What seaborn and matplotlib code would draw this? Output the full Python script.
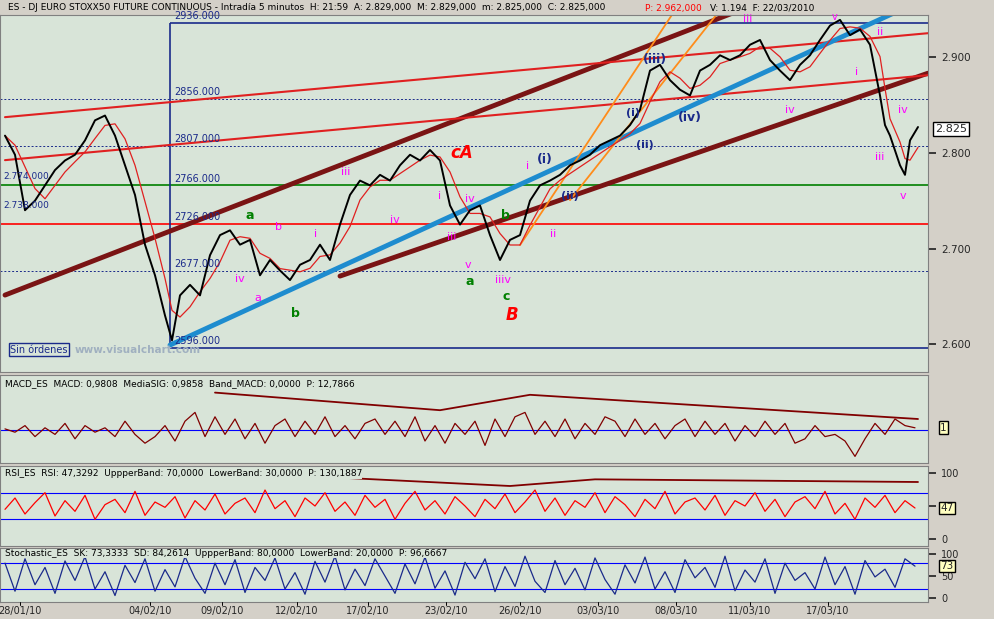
import matplotlib
matplotlib.use("Agg")
import matplotlib.pyplot as plt
import seaborn as sns
import numpy as np
import pandas as pd

sns.set_theme(style="white")
plt.rcParams['font.family'] = ['DejaVu Sans']

# ---- data (x in bar units, price in index/1000) ----
px = [5,15,25,35,45,55,65,75,85,95,105,115,125,135,145,155,165,172,180,190,200,210,220,230,240,250,260,270,280,290,
      300,310,320,330,340,350,360,370,380,390,400,410,420,430,440,450,460,470,480,490,500,510,520,530,540,550,560,570,580,590,
      600,610,620,630,640,650,660,670,680,690,700,710,720,730,740,750,760,770,780,790,800,810,820,830,840,850,860,870,
      880,885,890,900,905,910,918]
price = [2.818,2.798,2.740,2.750,2.766,2.782,2.792,2.798,2.813,2.834,2.839,2.818,2.787,2.756,2.704,2.672,2.630,2.604,2.651,2.662,
         2.651,2.693,2.714,2.719,2.704,2.709,2.672,2.688,2.677,2.667,2.683,2.688,2.704,2.688,2.725,2.756,2.771,2.766,2.777,2.771,
         2.787,2.798,2.792,2.803,2.792,2.745,2.725,2.740,2.745,2.714,2.688,2.709,2.714,2.750,2.766,2.771,2.777,2.787,2.792,2.798,
         2.808,2.813,2.818,2.829,2.845,2.886,2.892,2.876,2.866,2.860,2.886,2.892,2.902,2.897,2.902,2.913,2.918,2.897,2.886,2.876,
         2.892,2.902,2.918,2.933,2.939,2.923,2.929,2.913,2.860,2.829,2.818,2.787,2.777,2.813,2.827]
levels = [2.936, 2.856, 2.807, 2.766, 2.726, 2.677, 2.596]
level_labels = ["2936.000","2856.000","2807.000","2766.000","2726.000","2677.000","2596.000"]
date_pos = [20,150,222,297,368,446,520,598,676,750,828]
date_labels = ["28/01/10","04/02/10","09/02/10","12/02/10","17/02/10","23/02/10","26/02/10","03/03/10","08/03/10","11/03/10","17/03/10"]

ox = list(range(5, 921, 10))
macd = [0.5,-1,2,-3,1,-2,3,-4,2,-1,1,-3,4,-2,-6,-3,2,-5,4,8,-3,6,-2,5,-4,3,-6,2,5,-3,4,-2,6,-3,2,-4,3,5,-2,4,
        -3,6,-5,2,-6,3,-2,4,-7,5,-3,6,8,-2,4,-3,5,-4,3,-2,6,4,-3,5,-2,3,-4,2,5,-3,4,-2,3,-5,2,-3,4,-2,3,-6,
        -4,2,-3,-2,-5,-12,-4,3,-2,5,2,1]
rsi = [45,62,38,55,70,35,58,42,66,30,52,60,40,72,36,56,48,64,32,58,44,68,38,54,62,40,74,46,58,34,
       62,50,70,42,56,36,66,48,60,30,54,72,44,58,38,64,50,34,60,46,68,40,56,74,42,62,36,58,48,70,
       40,64,52,34,60,46,72,38,56,62,44,66,36,58,50,70,42,60,34,56,64,46,72,38,54,30,62,48,66,40,58,47]
stoch = [80,15,90,30,70,10,85,40,95,20,60,5,75,35,90,15,65,25,95,45,10,80,30,88,12,70,40,92,20,58,
         8,84,36,96,18,66,28,90,50,10,78,32,94,22,62,6,82,44,90,14,72,26,96,38,12,86,30,68,18,92,
         42,8,76,34,94,20,60,12,88,46,70,24,96,16,64,36,90,10,80,40,58,20,94,30,72,8,86,48,66,24,90,73]
macd_ref = [(215,17),(440,9),(530,16),(918,5)]
rsi_ref = [(320,94),(510,80),(595,90),(918,86)]

BG = "#d8e4d8"
fig = plt.figure(figsize=(9.94, 6.19), dpi=100, facecolor="#d4d0c8")
W, H = 994, 619
def ax_at(l, t, r, b):
    a = fig.add_axes([l/W, 1-b/H, (r-l)/W, (b-t)/H])
    a.set_facecolor(BG)
    a.set_xlim(0, 928)
    a.tick_params(axis='x', bottom=False, labelbottom=False)
    a.yaxis.tick_right()
    for s in a.spines.values():
        s.set_color("#808080"); s.set_linewidth(0.8)
    return a

fig.text(8/W, 1-8/H, "ES - DJ EURO STOXX50 FUTURE CONTINUOUS - Intradía 5 minutos  H: 21:59  A: 2.829,000  M: 2.829,000  m: 2.825,000  C: 2.825,000",
         fontsize=6.5, va="center", color="black")
fig.text(645/W, 1-8/H, "P: 2.962,000", fontsize=6.5, va="center", color="red")
fig.text(710/W, 1-8/H, "V: 1.194  F: 22/03/2010", fontsize=6.5, va="center", color="black")

# ---- main ----
ax = ax_at(0, 15, 928, 372)
ax.set_ylim(2.5709, 2.9441)
df = pd.DataFrame({"x": px, "p": price})
df["ma"] = df["p"].rolling(3, min_periods=1).mean()
for y, lab in zip(levels, level_labels):
    if y in (2.766,):
        ax.axhline(y, color="green", lw=1.2)
    elif y == 2.726:
        ax.axhline(y, color="red", lw=1.2)
    elif y in (2.936, 2.596):
        ax.hlines(y, 170, 928, color="#1a2a8a", lw=1.2)
    else:
        ax.axhline(y, color="#1a2a8a", lw=0.7, ls=(0, (2, 2)))
    ax.text(174, y+0.004, lab, fontsize=7, color="#1a2a8a")
ax.text(3, 2.773, "2.774.000", fontsize=6.5, color="#1a2a8a")
ax.text(3, 2.742, "2.738.000", fontsize=6.5, color="#1a2a8a")
ax.vlines(170, 2.596, 2.936, color="#1a2a8a", lw=1.2)

def pline(x0, y0, x1, y1, **kw):
    to = lambda yy: 2.9 - (yy-62)/957
    ax.plot([x0, x1], [to(y0), to(y1)], **kw)
pline(5, 300, 740, 15, color="#7a1414", lw=3.5)
pline(340, 281, 928, 78, color="#7a1414", lw=3.5)
pline(5, 122, 928, 38, color="#e02020", lw=1.5)
pline(5, 165, 928, 80, color="#e02020", lw=1.5)
pline(170, 350, 900, 15, color="#1e8ccf", lw=3.5)
pline(520, 250, 675, 15, color="#ff8c1a", lw=1.3)
pline(570, 205, 720, 15, color="#ff8c1a", lw=1.3)
sns.lineplot(data=df, x="x", y="ma", ax=ax, color="#e02020", lw=0.9)
sns.lineplot(data=df, x="x", y="p", ax=ax, color="black", lw=1.4)
ax.set_xlabel(""); ax.set_ylabel("")
ax.set_yticks([2.6, 2.7, 2.8, 2.9]); ax.set_yticklabels(["2.600","2.700","2.800","2.900"], fontsize=7.5)
ax.text(935, 2.825, "2.825", transform=ax.transData, fontsize=8, va="center", clip_on=False,
        bbox=dict(facecolor="white", edgecolor="black", pad=1.5))
ax.text(10, 2.591, "Sin órdenes", fontsize=7, color="#1a2a8a", bbox=dict(facecolor=BG, edgecolor="#1a2a8a", pad=1))
ax.text(75, 2.591, "www.visualchart.com", fontsize=7.5, color="#a0b0c0", weight="bold")
labs = [(462, 2.800, "cA", "red", 12), (512, 2.630, "B", "red", 12), (250, 2.735, "a", "green", 9),
        (295, 2.632, "b", "green", 9), (470, 2.665, "a", "green", 9), (505, 2.735, "b", "green", 9),
        (506, 2.650, "c", "green", 9), (346, 2.780, "iii", "magenta", 8), (395, 2.730, "iv", "magenta", 8),
        (440, 2.755, "i", "magenta", 8), (470, 2.752, "iv", "magenta", 8), (452, 2.712, "iii", "magenta", 8),
        (503, 2.667, "iiiv", "magenta", 8), (528, 2.786, "i", "magenta", 8), (553, 2.715, "ii", "magenta", 8),
        (545, 2.793, "(i)", "#1a2a8a", 9), (570, 2.755, "(ii)", "#1a2a8a", 8), (633, 2.842, "(i)", "#1a2a8a", 8),
        (645, 2.808, "(ii)", "#1a2a8a", 8), (655, 2.898, "(iii)", "#1a2a8a", 9), (690, 2.837, "(iv)", "#1a2a8a", 9),
        (748, 2.940, "iii", "magenta", 8), (790, 2.845, "iv", "magenta", 8), (880, 2.926, "ii", "magenta", 8),
        (857, 2.885, "i", "magenta", 8), (880, 2.796, "iii", "magenta", 8), (903, 2.845, "iv", "magenta", 8),
        (903, 2.755, "v", "magenta", 8), (240, 2.668, "iv", "magenta", 8), (258, 2.648, "a", "magenta", 8),
        (278, 2.722, "b", "magenta", 8), (316, 2.715, "i", "magenta", 8), (468, 2.683, "v", "magenta", 8),
        (835, 2.942, "v", "magenta", 7)]
for x, y, t, c, fs in labs:
    ax.text(x, y, t, color=c, fontsize=fs, ha="center", va="center",
            style="italic" if c == "red" else "normal", weight="bold" if c in ("red", "green", "#1a2a8a") else "normal")

# ---- oscillators ----
def osc(top, bot, vals, ylim, ticks, title, lastlab, hl, ref):
    a = ax_at(0, top, 928, bot)
    a.set_ylim(*ylim)
    for h in hl:
        a.axhline(h, color="blue", lw=0.8)
    sns.lineplot(x=ox, y=vals, ax=a, color="red" if "RSI" in title else "#1a2a8a" if "Stoch" in title else "#800000", lw=0.9)
    if ref:
        rx, ry = zip(*ref)
        a.plot(rx, ry, color="#800000", lw=1.3)
    a.set_yticks(ticks[0]); a.set_yticklabels(ticks[1], fontsize=7)
    a.text(5, ylim[1] - (ylim[1]-ylim[0])*0.1, title, fontsize=6.5, va="center", color="black",
           bbox=dict(facecolor=BG, edgecolor="none", pad=0))
    a.text(940, vals[-1], lastlab, transform=a.transData, fontsize=7.5, va="center", clip_on=False,
           bbox=dict(facecolor="#ffffc0", edgecolor="black", pad=1))
    return a

osc(375, 463, macd, (-15, 25), ([], []), "MACD_ES  MACD: 0,9808  MediaSIG: 0,9858  Band_MACD: 0,0000  P: 12,7866", "1", [0], macd_ref)
osc(466, 546, rsi, (-10, 110), ([0, 50, 100], ["0", "50", "100"]), "RSI_ES  RSI: 47,3292  UppperBand: 70,0000  LowerBand: 30,0000  P: 130,1887", "47", [30, 70], rsi_ref)
a3 = osc(548, 602, stoch, (-10, 115), ([0, 50, 100], ["0", "50", "100"]), "Stochastic_ES  SK: 73,3333  SD: 84,2614  UppperBand: 80,0000  LowerBand: 20,0000  P: 96,6667", "73", [20, 80], None)
for d, l in zip(date_pos, date_labels):
    fig.text(d/W, 1-611/H, l, fontsize=7, ha="center", va="center")
    fig.lines.append(plt.Line2D([d/W, d/W], [1-602/H, 1-605/H], transform=fig.transFigure, color="black", lw=0.7))

fig.savefig("out.png", dpi=100, facecolor=fig.get_facecolor())
